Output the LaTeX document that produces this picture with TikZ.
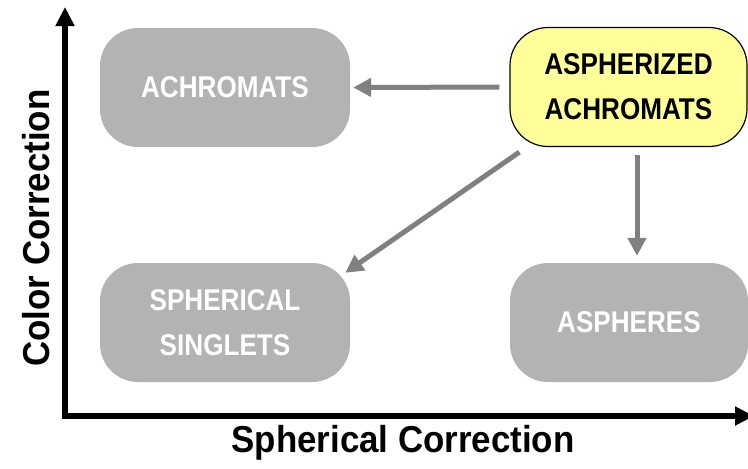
\documentclass[tikz,border=0pt]{standalone}
\usepackage{fontspec}
\setmainfont{Liberation Sans}
\newfontface\boxface[FakeStretch=0.87]{Liberation Sans Bold}
\newfontface\labelface[FakeStretch=0.93]{Liberation Sans Bold}
\usetikzlibrary{arrows.meta}
\definecolor{boxgray}{HTML}{B3B3B3}
\definecolor{arrgray}{HTML}{808080}
\definecolor{lightyellow}{HTML}{FFFF99}
\begin{document}
\begin{tikzpicture}[x=1pt,y=-1pt,
  box/.style={rounded corners=38pt, minimum width=250pt, minimum height=119pt, inner sep=0pt,
    align=center, font=\boxface\fontsize{30}{45}\selectfont},
  graybox/.style={box, fill=boxgray, text=white},
  yellowbox/.style={box, fill=lightyellow, draw=black, line width=1.2pt, minimum width=237pt, text=black},
  conn/.style={draw=arrgray, line width=5pt, -{Triangle[length=18pt,width=18pt]}},
  axis/.style={draw=black, line width=6pt},
  axlabel/.style={font=\labelface\fontsize{37.5}{40}\selectfont, text=black}]
\useasboundingbox (0,0) rectangle (748,469);
% boxes
\node[graybox] (achro) at (225,87.5) {ACHROMATS};
\node[yellowbox] (asphach) at (628.5,87) {ASPHERIZED\\ACHROMATS};
\node[graybox] (singlets) at (225,322.5) {SPHERICAL\\SINGLETS};
\node[graybox, minimum width=238pt] (aspheres) at (629,322.5) {ASPHERES};
% connectors
\draw[conn, shorten <=10pt, shorten >=3pt] (asphach.west) -- (achro.east);
\draw[conn] ([shift={(10pt,-5pt)}]asphach.south west) -- ([shift={(-5pt,-10pt)}]singlets.north east);
\draw[conn, shorten <=8pt, shorten >=7pt] ([xshift=8.5pt]asphach.south) -- ([xshift=8pt]aspheres.north);
% axes
\coordinate (origin) at (65,416);
\coordinate (ytip) at (65,7);
\coordinate (xtip) at (754,416);
\draw[axis, -{Triangle[length=19pt,width=18pt]}] ([yshift=-3pt]origin) -- (ytip);
\draw[axis, -{Triangle[length=19pt,width=18pt]}] ([xshift=-3pt]origin) -- (xtip);
% axis labels
\node[axlabel, rotate=90] (ylab) at (36,228) {Color Correction};
\node[axlabel] (xlab) at (403,443) {Spherical Correction};
\end{tikzpicture}
\end{document}
